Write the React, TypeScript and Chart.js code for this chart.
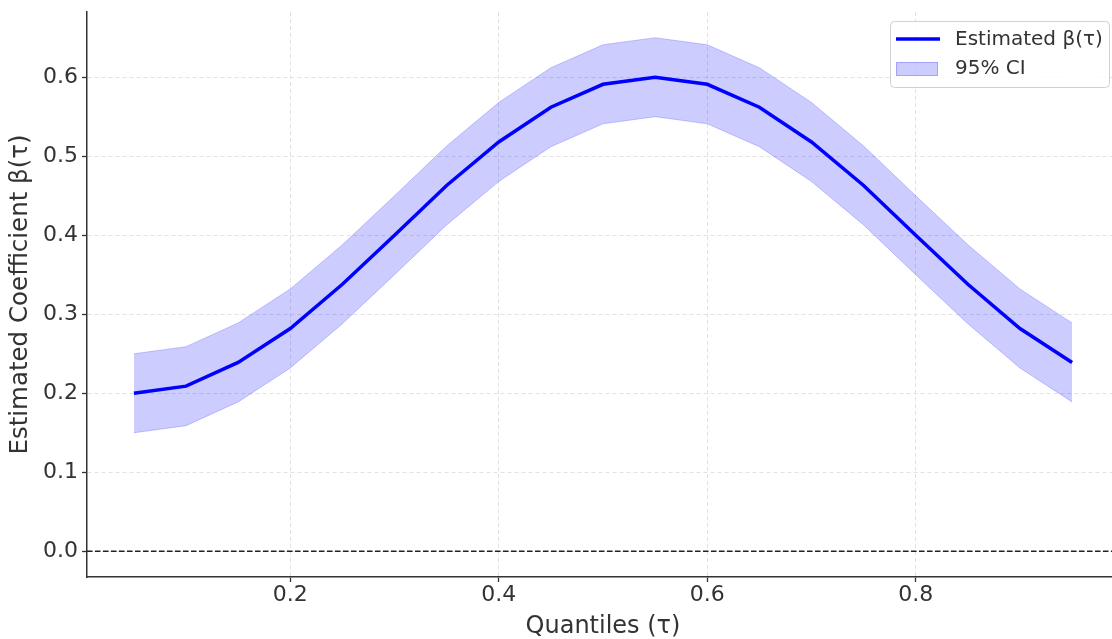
import React, { useEffect, useRef } from "react";
import { Chart, registerables } from "chart.js";

Chart.register(...registerables);

const tau = [0.05, 0.1, 0.15, 0.2, 0.25, 0.3, 0.35, 0.4, 0.45, 0.5, 0.55, 0.6, 0.65, 0.7, 0.75, 0.8, 0.85, 0.9, 0.95];
const beta = [0.2, 0.209, 0.239, 0.282, 0.338, 0.4, 0.463, 0.518, 0.562, 0.591, 0.6, 0.591, 0.562, 0.518, 0.463, 0.4, 0.338, 0.282, 0.239];
const ciLower = [0.15, 0.159, 0.189, 0.232, 0.288, 0.35, 0.413, 0.468, 0.512, 0.541, 0.55, 0.541, 0.512, 0.468, 0.413, 0.35, 0.288, 0.232, 0.189];
const ciUpper = [0.25, 0.259, 0.289, 0.332, 0.388, 0.45, 0.513, 0.568, 0.612, 0.641, 0.65, 0.641, 0.612, 0.568, 0.513, 0.45, 0.388, 0.332, 0.289];
const xTicks = [0.2, 0.4, 0.6, 0.8];
const yTicks = [0, 0.1, 0.2, 0.3, 0.4, 0.5, 0.6];
const xLimits = [0.005, 0.995];
const yLimits = [-0.0325, 0.6825];
const referenceValue = 0;
const legendLabels = ["Estimated β(τ)", "95% CI"];

const FONT = "'DejaVu Sans', sans-serif";
const TEXT = "#333333";

const zeroLinePlugin = {
  id: "zeroLine",
  afterDatasetsDraw(chart: any) {
    const { ctx, chartArea, scales } = chart;
    const y = scales.y.getPixelForValue(referenceValue);
    ctx.save();
    ctx.strokeStyle = "#222222";
    ctx.lineWidth = 1.4;
    ctx.setLineDash([5.5, 2.5]);
    ctx.beginPath();
    ctx.moveTo(chartArea.left, y);
    ctx.lineTo(chartArea.right, y);
    ctx.stroke();
    ctx.restore();
  },
};

const legendPlugin = {
  id: "boxLegend",
  afterDraw(chart: any) {
    const { ctx } = chart;
    const x0 = 890, y0 = 21, w = 219, h = 66, r = 4;
    ctx.save();
    ctx.fillStyle = "rgba(255,255,255,0.85)";
    ctx.strokeStyle = "#d0d0d0";
    ctx.lineWidth = 1;
    ctx.beginPath();
    ctx.roundRect(x0 + 0.5, y0 + 0.5, w, h, r);
    ctx.fill();
    ctx.stroke();
    ctx.strokeStyle = "#0000ff";
    ctx.lineWidth = 3.5;
    ctx.beginPath();
    ctx.moveTo(896, 39);
    ctx.lineTo(940, 39);
    ctx.stroke();
    ctx.fillStyle = "rgba(0,0,255,0.2)";
    ctx.strokeStyle = "rgba(0,0,255,0.2)";
    ctx.lineWidth = 1;
    ctx.fillRect(896, 62, 42, 14);
    ctx.strokeRect(896.5, 62.5, 41, 13);
    ctx.fillStyle = TEXT;
    ctx.font = `20px ${FONT}`;
    ctx.textBaseline = "middle";
    ctx.textAlign = "left";
    ctx.fillText(legendLabels[0], 955, 40);
    ctx.fillText(legendLabels[1], 955, 69);
    ctx.restore();
  },
};

export default function App() {
  const ref = useRef<HTMLCanvasElement | null>(null);
  useEffect(() => {
    if (!ref.current) return;
    Chart.defaults.font.family = FONT;
    const toPts = (ys: number[]) => tau.map((t, i) => ({ x: t, y: ys[i] }));
    const chart = new Chart(ref.current, {
      type: "line",
      data: {
        datasets: [
          {
            label: legendLabels[0],
            data: toPts(beta),
            borderColor: "#0000ff",
            borderWidth: 3.5,
            pointRadius: 0,
            fill: false,
            tension: 0,
          },
          {
            label: legendLabels[1],
            data: toPts(ciUpper),
            borderColor: "rgba(0,0,255,0.2)",
            borderWidth: 1,
            backgroundColor: "rgba(0,0,255,0.2)",
            pointRadius: 0,
            fill: "+1",
            tension: 0,
          },
          {
            label: "lower",
            data: toPts(ciLower),
            borderColor: "rgba(0,0,255,0.2)",
            borderWidth: 1,
            pointRadius: 0,
            fill: false,
            tension: 0,
          },
        ],
      },
      options: {
        animation: false,
        responsive: false,
        maintainAspectRatio: false,
        layout: { padding: { top: 12, right: 11, left: 0, bottom: 0 } },
        plugins: { legend: { display: false }, tooltip: { enabled: false } },
        scales: {
          x: {
            type: "linear",
            min: xLimits[0],
            max: xLimits[1],
            afterBuildTicks: (s: any) => {
              s.ticks = xTicks.map((v) => ({ value: v }));
            },
            afterFit: (s: any) => {
              s.height = 68;
              s.paddingLeft = 0;
              s.paddingRight = 0;
            },
            ticks: {
              color: TEXT,
              font: { size: 22, family: FONT },
              padding: 0,
              maxRotation: 0,
              callback: (v: any) => Number(v).toFixed(1),
            },
            grid: {
              color: "#e2e2e2",
              lineWidth: 1,
              tickColor: "#333333",
              tickLength: 5,
              tickWidth: 1.3,
            },
            border: { display: true, color: "#333333", width: 1.5, dash: [4, 3] },
            title: {
              display: true,
              text: "Quantiles (τ)",
              color: TEXT,
              font: { size: 24, family: FONT },
              padding: { top: 0, bottom: 4 },
            },
          },
          y: {
            type: "linear",
            min: yLimits[0],
            max: yLimits[1],
            afterBuildTicks: (s: any) => {
              s.ticks = yTicks.map((v) => ({ value: v }));
            },
            afterFit: (s: any) => {
              s.width = 87;
              s.paddingTop = 0;
              s.paddingBottom = 0;
            },
            ticks: {
              color: TEXT,
              font: { size: 22, family: FONT },
              padding: 4,
              callback: (v: any) => Number(v).toFixed(1),
            },
            grid: {
              color: "#e2e2e2",
              lineWidth: 1,
              tickColor: "#333333",
              tickLength: 5,
              tickWidth: 1.3,
            },
            border: { display: true, color: "#333333", width: 1.5, dash: [4, 3] },
            title: {
              display: true,
              text: "Estimated Coefficient β(τ)",
              color: TEXT,
              font: { size: 24.5, family: FONT },
              padding: { top: 6, bottom: 0 },
            },
          },
        },
      },
      plugins: [zeroLinePlugin, legendPlugin],
    } as any);
    return () => chart.destroy();
  }, []);
  return (
    <div style={{ position: "fixed", left: 0, top: 0, width: 1112, height: 639, overflow: "hidden", background: "#fff" }}>
      <canvas ref={ref} width={1130} height={645} style={{ display: "block" }} />
    </div>
  );
}
